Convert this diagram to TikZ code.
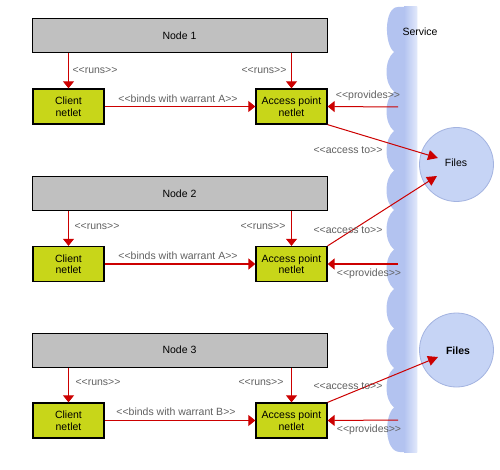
\documentclass[tikz,border=0pt]{standalone}
\usepackage{fontspec}
\setmainfont{Liberation Sans}
\usetikzlibrary{arrows.meta}
\newcommand{\stereo}[1]{<\kern0pt<#1>\kern0pt>}
\definecolor{arrred}{HTML}{CC0000}
\definecolor{nodegray}{HTML}{C0C0C0}
\definecolor{netgreen}{HTML}{C8D619}
\definecolor{bandblue}{HTML}{B3C3F0}
\definecolor{bandlight}{HTML}{E2E9FB}
\definecolor{filesfill}{HTML}{C6D4F5}
\definecolor{filesborder}{HTML}{A3B3E0}
\definecolor{labgray}{HTML}{606060}
\begin{document}
\begin{tikzpicture}[x=1pt,y=-1pt,
  every node/.style={font=\fontsize{10.5}{12}\selectfont},
  hostbox/.style={draw=black,line width=1pt,fill=nodegray,minimum width=295pt,minimum height=34pt,inner sep=0pt},
  netbox/.style={draw=black,line width=1.3pt,fill=netgreen,minimum width=71pt,minimum height=35pt,inner sep=0pt,align=center,font=\fontsize{10.5}{11.5}\selectfont},
  filesnode/.style={circle,draw=filesborder,line width=0.8pt,fill=filesfill,minimum size=74pt,inner sep=0pt},
  lab/.style={text=labgray,inner sep=0pt},
  arr/.style={draw=arrred,line width=1pt,-{Triangle[width=11pt,length=7pt]}},
  arrb/.style={draw=arrred,line width=1.6pt,-{Triangle[width=11pt,length=7pt]}},
  acc/.style={draw=arrred,line width=1pt,-{Triangle[width=10pt,length=10pt]}}
]
\useasboundingbox (0,0) rectangle (500,470);
% service band
\fill[bandblue] (417,7) -- (398,7)
  .. controls (384,7) and (384,44) .. (394,52)
  .. controls (384,60) and (384,83.5) .. (394,91.5)
  .. controls (384,99.5) and (384,123) .. (394,131)
  .. controls (384,139) and (384,162.5) .. (394,170.5)
  .. controls (384,178.5) and (384,202) .. (394,210)
  .. controls (384,218) and (384,241.5) .. (394,249.5)
  .. controls (384,257.5) and (384,281) .. (394,289)
  .. controls (384,297) and (384,320.5) .. (394,328.5)
  .. controls (384,336.5) and (384,360) .. (394,368)
  .. controls (384,376) and (384,399.5) .. (394,407.5)
  .. controls (384,415.5) and (384,452) .. (400,452)
  -- (417,452) -- cycle;
\shade[left color=bandblue,right color=bandlight] (404,7) rectangle (417,452);
\node[inner sep=0pt] (service) at (420,32) {Service};
% files
\node[filesnode] (files1) at (456.5,164.5) {};
\node at (456,163) {Files};
\node[filesnode] (files2) at (456.5,350) {};
\node[font=\fontsize{10.5}{12}\selectfont\bfseries] at (458,351) {Files};
\coordinate (f1a) at (438,158);
\coordinate (f1b) at (437,176);
\coordinate (f2a) at (438,357);
% row 1
\node[hostbox] (n1) at (179.5,36) {Node 1};
\node[netbox] (c1) at (68.5,106.5) {Client\\netlet};
\node[netbox] (a1) at (291.5,106.5) {Access point\\netlet};
\coordinate (p1) at (398,107);
\draw[arr] (c1.north |- n1.south) -- (c1.north);
\draw[arr] (a1.north |- n1.south) -- (a1.north);
\draw[arr] (c1.east) -- (a1.west);
\draw[arr] (p1) -- (a1.east);
\draw[acc] (a1.south east) -- (f1a);
\node[lab] at (95,70) {\stereo{runs}};
\node[lab] at (264,70) {\stereo{runs}};
\node[lab] at (178,99) {\stereo{binds with warrant A}};
\node[lab] at (368,96) {\stereo{provides}};
\node[lab] at (348,150) {\stereo{access to}};
% row 2
\node[hostbox] (n2) at (179.5,194) {Node 2};
\node[netbox] (c2) at (68.5,264) {Client\\netlet};
\node[netbox] (a2) at (291.5,264) {Access point\\netlet};
\coordinate (p2) at (398,264);
\draw[arr] (c2.north |- n2.south) -- (c2.north);
\draw[arr] (a2.north |- n2.south) -- (a2.north);
\draw[arrb] (c2.east) -- (a2.west);
\draw[arrb] (p2) -- (a2.east);
\draw[acc] (a2.north east) -- (f1b);
\node[lab] at (97,226) {\stereo{runs}};
\node[lab] at (263,226) {\stereo{runs}};
\node[lab] at (178,256) {\stereo{binds with warrant A}};
\node[lab] at (369,274) {\stereo{provides}};
\node[lab] at (348,230) {\stereo{access to}};
% row 3
\node[hostbox] (n3) at (179.5,350) {Node 3};
\node[netbox] (c3) at (68.5,420.5) {Client\\netlet};
\node[netbox] (a3) at (291.5,420.5) {Access point\\netlet};
\coordinate (p3) at (398,420);
\draw[arr] (c3.north |- n3.south) -- (c3.north);
\draw[arr] (a3.north |- n3.south) -- (a3.north);
\draw[arr] (c3.east) -- (a3.west);
\draw[arr] (p3) -- (a3.east);
\draw[acc] (a3.north east) -- (f2a);
\node[lab] at (98,382) {\stereo{runs}};
\node[lab] at (261,382) {\stereo{runs}};
\node[lab] at (176,412) {\stereo{binds with warrant B}};
\node[lab] at (369,430) {\stereo{provides}};
\node[lab] at (348,386) {\stereo{access to}};
\end{tikzpicture}
\end{document}
